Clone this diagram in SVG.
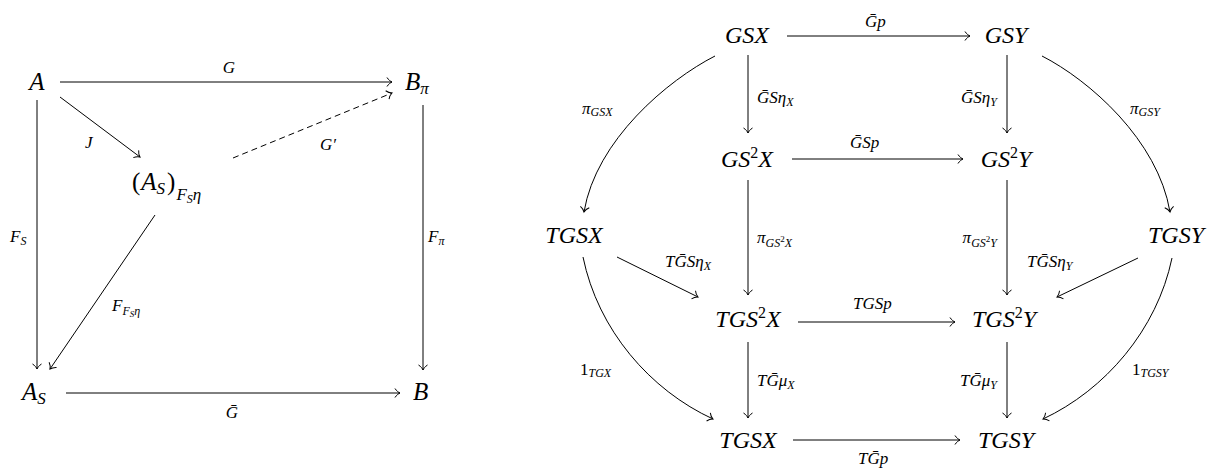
<svg xmlns="http://www.w3.org/2000/svg" width="1215" height="473" viewBox="0 0 1215 473">
<style>
text{font-family:'Liberation Serif','DejaVu Serif',serif;font-style:italic;fill:#000}
.n{font-size:24px}
.nl{font-size:25px}
.l{font-size:17px}
.up{font-style:normal}
.c{fill:none;stroke:#000;stroke-width:1}
.d{stroke-dasharray:6 4}
.m{text-anchor:middle}
.e{text-anchor:end}
</style>
<defs>
<marker id="ah" markerUnits="userSpaceOnUse" markerWidth="14" markerHeight="14" viewBox="-7 -7 14 14" refX="0" refY="0" orient="auto">
<path d="M-5,-4.5 C-3.5,-2 -1.2,-0.5 0,0 C-1.2,0.5 -3.5,2 -5,4.5" fill="none" stroke="#000" stroke-width="1"/>
</marker>
</defs>
<rect width="1215" height="473" fill="#fff"/>
<g id="connectors">
<path class="c" d="M60,82 L392,82" marker-end="url(#ah)"/>
<path class="c" d="M37,100 L37,369" marker-end="url(#ah)"/>
<path class="c" d="M423,105 L423,370" marker-end="url(#ah)"/>
<path class="c" d="M66,393 L400,393" marker-end="url(#ah)"/>
<path class="c" d="M60,97 L140,157" marker-end="url(#ah)"/>
<path class="c d" d="M233,158 L392,93" marker-end="url(#ah)"/>
<path class="c" d="M155,215 L50,369" marker-end="url(#ah)"/>
<path class="c" d="M787,36 L970,36" marker-end="url(#ah)"/>
<path class="c" d="M792,159 L963,159" marker-end="url(#ah)"/>
<path class="c" d="M798,322 L955,322" marker-end="url(#ah)"/>
<path class="c" d="M793,440 L960,440" marker-end="url(#ah)"/>
<path class="c" d="M748,55 L748,133" marker-end="url(#ah)"/>
<path class="c" d="M748,180 L748,295" marker-end="url(#ah)"/>
<path class="c" d="M748,342 L748,418" marker-end="url(#ah)"/>
<path class="c" d="M1007,55 L1007,133" marker-end="url(#ah)"/>
<path class="c" d="M1007,180 L1007,295" marker-end="url(#ah)"/>
<path class="c" d="M1007,342 L1007,418" marker-end="url(#ah)"/>
<path class="c" d="M617,257 L698,297" marker-end="url(#ah)"/>
<path class="c" d="M1138,258 L1057,297" marker-end="url(#ah)"/>
<path class="c" d="M715,56 C668,80 596,140 584,212" marker-end="url(#ah)"/>
<path class="c" d="M1042,56 C1089,80 1158,140 1170,212" marker-end="url(#ah)"/>
<path class="c" d="M583,257 C598,330 650,390 713,419" marker-end="url(#ah)"/>
<path class="c" d="M1172,258 C1157,330 1105,390 1043,419" marker-end="url(#ah)"/>
</g>
<g id="labels">
<text class="l m" x="229" y="73">G</text>
<text class="l" x="85" y="148">J</text>
<text class="l" x="320" y="150">G′</text>
<text class="l" x="10" y="242">F<tspan font-size="12" dy="3">S</tspan></text>
<text class="l" x="428" y="242">F<tspan font-size="12" dy="3">π</tspan></text>
<text class="l" x="112" y="311">F<tspan font-size="12" dy="4">F</tspan><tspan font-size="9" dy="2">S</tspan><tspan font-size="12" dy="-2">η</tspan></text>
<text class="l m" x="232" y="418">Ḡ</text>

<text class="l" x="865" y="27">Ḡp</text>
<text class="l" x="757" y="103">ḠSη<tspan font-size="12" dy="3">X</tspan></text>
<text class="l e" x="997" y="103">ḠSη<tspan font-size="12" dy="3">Y</tspan></text>
<text class="l" x="850" y="148">ḠSp</text>
<text class="l" x="582" y="114">π<tspan font-size="12" dy="2">GSX</tspan></text>
<text class="l" x="1130" y="114">π<tspan font-size="12" dy="2">GSY</tspan></text>
<text class="l" x="757" y="243">π<tspan font-size="12" dy="4">GS</tspan><tspan font-size="9" dy="-5" class="up">2</tspan><tspan font-size="12" dy="5">X</tspan></text>
<text class="l e" x="997" y="243">π<tspan font-size="12" dy="4">GS</tspan><tspan font-size="9" dy="-5" class="up">2</tspan><tspan font-size="12" dy="5">Y</tspan></text>
<text class="l" x="665" y="267">TḠSη<tspan font-size="12" dy="3">X</tspan></text>
<text class="l" x="1027" y="267">TḠSη<tspan font-size="12" dy="3">Y</tspan></text>
<text class="l" x="853" y="309">TGSp</text>
<text class="l" x="757" y="386">TḠμ<tspan font-size="12" dy="3">X</tspan></text>
<text class="l e" x="997" y="386">TḠμ<tspan font-size="12" dy="3">Y</tspan></text>
<text class="l" x="858" y="464">TḠp</text>
<text class="l" x="580" y="375"><tspan class="up">1</tspan><tspan font-size="12" dy="2">TGX</tspan></text>
<text class="l" x="1132" y="375"><tspan class="up">1</tspan><tspan font-size="12" dy="2">TGSY</tspan></text>
</g>
<g id="node-A"><text class="nl m" x="37" y="90">A</text></g>
<g id="node-Bpi"><text class="nl" x="405" y="90">B<tspan font-size="17" dy="4">π</tspan></text></g>
<g id="node-AS"><text class="nl" x="22" y="400">A<tspan font-size="17" dy="4">S</tspan></text></g>
<g id="node-B"><text class="nl" x="413" y="400">B</text></g>
<g id="node-ASFeta"><text class="nl" x="132" y="190"><tspan class="up">(</tspan><tspan dx="1">A</tspan><tspan font-size="17" dy="4">S</tspan><tspan class="up" dx="2" dy="-4">)</tspan><tspan font-size="17" dx="1" dy="10">F</tspan><tspan font-size="12" dy="3">S</tspan><tspan font-size="17" dy="-3">η</tspan></text></g>

<g id="node-GSX"><text class="n m" x="747" y="43">GSX</text></g>
<g id="node-GSY"><text class="n m" x="1006" y="43">GSY</text></g>
<g id="node-GS2X"><text class="n m" x="747" y="167">GS<tspan font-size="16" dy="-9" class="up">2</tspan><tspan dy="9">X</tspan></text></g>
<g id="node-GS2Y"><text class="n m" x="1006" y="167">GS<tspan font-size="16" dy="-9" class="up">2</tspan><tspan dy="9">Y</tspan></text></g>
<g id="node-TGSX-left"><text class="n m" x="574" y="243">TGSX</text></g>
<g id="node-TGSY-right"><text class="n m" x="1176" y="243">TGSY</text></g>
<g id="node-TGS2X"><text class="n m" x="748" y="327">TGS<tspan font-size="16" dy="-9" class="up">2</tspan><tspan dy="9">X</tspan></text></g>
<g id="node-TGS2Y"><text class="n m" x="1004" y="327">TGS<tspan font-size="16" dy="-9" class="up">2</tspan><tspan dy="9">Y</tspan></text></g>
<g id="node-TGSX-bottom"><text class="n m" x="748" y="448">TGSX</text></g>
<g id="node-TGSY-bottom"><text class="n m" x="1006" y="448">TGSY</text></g>
</svg>
